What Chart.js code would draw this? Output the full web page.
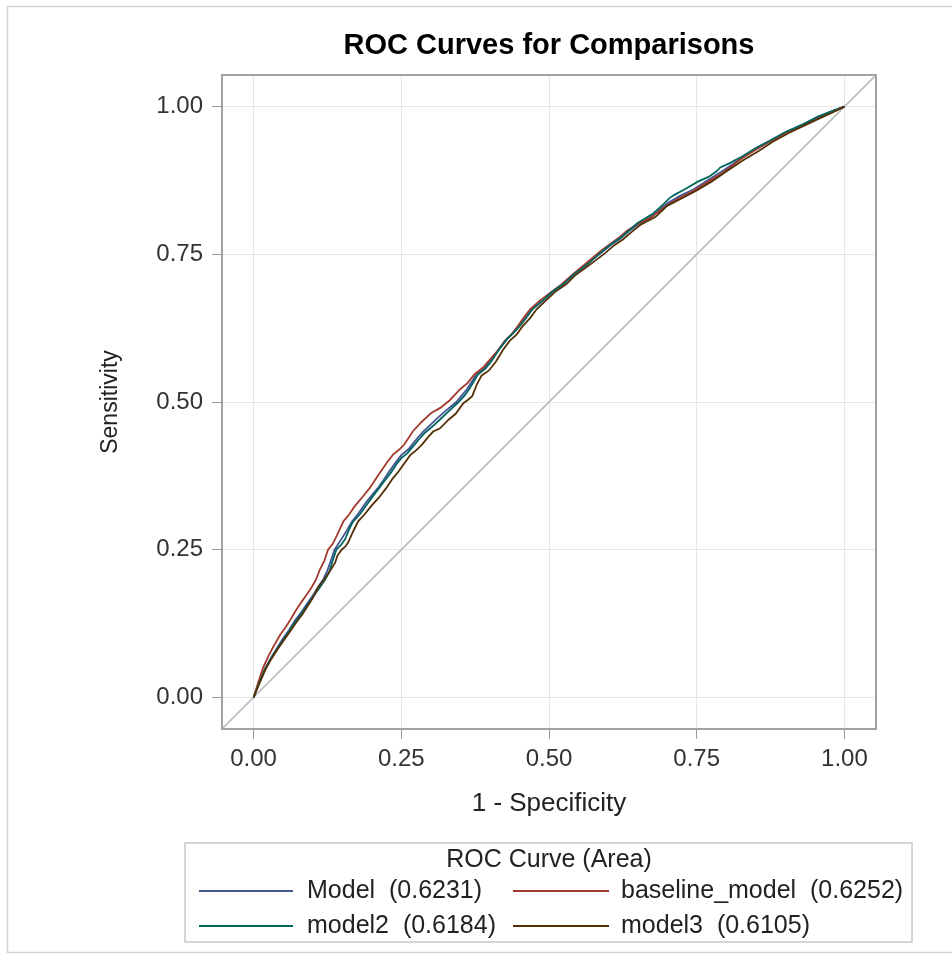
<!DOCTYPE html>
<html><head><meta charset="utf-8">
<script src="https://cdn.jsdelivr.net/npm/chart.js@4.4.1/dist/chart.umd.min.js"></script>
<style>html,body{margin:0;padding:0;background:#fff}canvas{display:block}</style>
</head><body>
<canvas id="c" width="952" height="959"></canvas>
<script>
// ---- data ----
const chartTitle = 'ROC Curves for Comparisons';
const xTitle = '1 - Specificity';
const yTitle = 'Sensitivity';
const legendTitle = 'ROC Curve (Area)';
const seriesNames = ['Model', 'baseline_model', 'model2', 'model3'];
const seriesAreas = [0.6231, 0.6252, 0.6184, 0.6105];
const seriesColors = ['#445694', '#A23A2E', '#01665E', '#543005'];
const tickValues = [0, 0.25, 0.5, 0.75, 1];
const tickLabels = ['0.00', '0.25', '0.50', '0.75', '1.00'];
const axisMin = -0.0535, axisMax = 1.0535;

const modelPts = [[0,0],[0.01,0.027],[0.02,0.05],[0.03,0.068],[0.04,0.084],[0.05,0.1],[0.06,0.114],[0.07,0.13],[0.08,0.143],[0.09,0.158],[0.1,0.172],[0.11,0.188],[0.118,0.2],[0.125,0.215],[0.132,0.235],[0.137,0.25],[0.15,0.27],[0.158,0.283],[0.166,0.297],[0.178,0.312],[0.19,0.33],[0.2,0.342],[0.211,0.355],[0.22,0.368],[0.23,0.383],[0.24,0.397],[0.25,0.41],[0.262,0.42],[0.27,0.43],[0.28,0.442],[0.287,0.45],[0.3,0.462],[0.31,0.472],[0.325,0.485],[0.343,0.5],[0.36,0.52],[0.376,0.545],[0.39,0.556],[0.4,0.57],[0.412,0.585],[0.425,0.603],[0.438,0.616],[0.45,0.63],[0.462,0.645],[0.47,0.657],[0.49,0.672],[0.507,0.687],[0.525,0.7],[0.542,0.716],[0.565,0.735],[0.59,0.754],[0.605,0.766],[0.62,0.776],[0.635,0.789],[0.65,0.8],[0.675,0.815],[0.7,0.836],[0.72,0.848],[0.745,0.86],[0.77,0.876],[0.795,0.892],[0.825,0.912],[0.85,0.928],[0.875,0.942],[0.9,0.956],[0.93,0.97],[0.955,0.982],[0.978,0.992],[1,1]];

const baselinePts = [[0,0],[0.008,0.026],[0.016,0.05],[0.025,0.07],[0.033,0.085],[0.045,0.106],[0.055,0.12],[0.062,0.131],[0.072,0.148],[0.08,0.16],[0.09,0.174],[0.098,0.186],[0.106,0.2],[0.112,0.216],[0.12,0.232],[0.126,0.25],[0.134,0.26],[0.14,0.272],[0.152,0.298],[0.162,0.31],[0.17,0.322],[0.185,0.34],[0.197,0.355],[0.207,0.37],[0.215,0.382],[0.226,0.398],[0.236,0.411],[0.247,0.42],[0.255,0.428],[0.27,0.451],[0.284,0.466],[0.3,0.481],[0.316,0.49],[0.332,0.503],[0.35,0.522],[0.362,0.532],[0.374,0.547],[0.388,0.558],[0.4,0.572],[0.414,0.588],[0.425,0.603],[0.437,0.615],[0.447,0.628],[0.458,0.644],[0.468,0.657],[0.485,0.672],[0.505,0.687],[0.52,0.698],[0.54,0.716],[0.563,0.735],[0.588,0.756],[0.603,0.767],[0.617,0.777],[0.632,0.79],[0.648,0.8],[0.672,0.812],[0.7,0.833],[0.72,0.845],[0.742,0.856],[0.77,0.873],[0.796,0.889],[0.81,0.9],[0.826,0.912],[0.85,0.927],[0.872,0.94],[0.9,0.955],[0.928,0.968],[0.955,0.981],[0.978,0.991],[1,1]];

const model2Pts = [[0,0],[0.01,0.026],[0.02,0.049],[0.03,0.066],[0.04,0.082],[0.052,0.1],[0.062,0.115],[0.072,0.13],[0.082,0.143],[0.092,0.158],[0.102,0.172],[0.112,0.186],[0.12,0.198],[0.128,0.212],[0.134,0.232],[0.14,0.25],[0.148,0.258],[0.155,0.268],[0.162,0.285],[0.168,0.297],[0.18,0.31],[0.192,0.327],[0.203,0.342],[0.213,0.355],[0.222,0.367],[0.232,0.38],[0.242,0.395],[0.25,0.405],[0.26,0.413],[0.27,0.425],[0.28,0.437],[0.29,0.448],[0.302,0.458],[0.315,0.47],[0.33,0.484],[0.347,0.5],[0.358,0.512],[0.365,0.522],[0.38,0.547],[0.392,0.556],[0.402,0.568],[0.415,0.588],[0.428,0.605],[0.44,0.617],[0.45,0.628],[0.462,0.643],[0.472,0.657],[0.49,0.672],[0.507,0.688],[0.525,0.7],[0.542,0.716],[0.565,0.733],[0.59,0.755],[0.605,0.767],[0.62,0.777],[0.635,0.79],[0.65,0.803],[0.675,0.818],[0.693,0.834],[0.705,0.846],[0.713,0.851],[0.73,0.86],[0.752,0.873],[0.77,0.881],[0.783,0.89],[0.79,0.897],[0.805,0.904],[0.826,0.915],[0.85,0.93],[0.875,0.943],[0.9,0.957],[0.93,0.97],[0.955,0.983],[0.978,0.992],[1,1]];

const model3Pts = [[0,0],[0.01,0.024],[0.02,0.047],[0.028,0.062],[0.035,0.073],[0.043,0.085],[0.05,0.095],[0.062,0.112],[0.073,0.128],[0.082,0.14],[0.09,0.152],[0.1,0.168],[0.109,0.186],[0.12,0.2],[0.13,0.215],[0.138,0.228],[0.142,0.24],[0.149,0.25],[0.155,0.255],[0.16,0.262],[0.168,0.28],[0.177,0.298],[0.188,0.31],[0.2,0.325],[0.212,0.338],[0.225,0.355],[0.235,0.37],[0.245,0.382],[0.255,0.396],[0.265,0.41],[0.275,0.418],[0.285,0.428],[0.295,0.44],[0.304,0.45],[0.315,0.455],[0.33,0.47],[0.342,0.48],[0.355,0.498],[0.362,0.503],[0.37,0.51],[0.378,0.53],[0.386,0.545],[0.398,0.553],[0.41,0.568],[0.422,0.588],[0.433,0.603],[0.445,0.614],[0.455,0.628],[0.468,0.642],[0.479,0.657],[0.495,0.672],[0.51,0.686],[0.53,0.7],[0.545,0.715],[0.57,0.733],[0.595,0.752],[0.61,0.765],[0.625,0.775],[0.64,0.788],[0.655,0.8],[0.68,0.813],[0.7,0.832],[0.725,0.845],[0.75,0.858],[0.775,0.873],[0.8,0.89],[0.83,0.91],[0.855,0.925],[0.878,0.94],[0.905,0.955],[0.93,0.967],[0.958,0.98],[0.98,0.99],[1,1]];

const seriesPoints = [modelPts, baselinePts, model2Pts, model3Pts];

// ---- chart ----
const FONT = '"Liberation Sans", Arial, Helvetica, sans-serif';
const toXY = pts => pts.map(p => ({x: p[0], y: p[1]}));

const datasets = seriesPoints.map((pts, i) => ({
  label: seriesNames[i] + '  (' + seriesAreas[i].toFixed(4) + ')',
  data: toXY(pts),
  showLine: true,
  borderColor: seriesColors[i],
  backgroundColor: seriesColors[i],
  borderWidth: 1.8,
  pointRadius: 0,
  tension: 0,
  order: 4 - i
}));
datasets.push({
  label: 'diagonal',
  data: [{x: axisMin, y: axisMin}, {x: axisMax, y: axisMax}],
  showLine: true,
  borderColor: '#bcbcbc',
  borderWidth: 1.6,
  pointRadius: 0,
  order: 10
});

const decor = {
  id: 'decor',
  afterDraw(chart) {
    const ctx = chart.ctx, a = chart.chartArea;
    ctx.save();
    // outer frame
    ctx.strokeStyle = '#d4d4d4'; ctx.lineWidth = 1.5;
    ctx.strokeRect(7.5, 6.5, 960, 946);
    // plot frame
    ctx.strokeStyle = '#a2a2a2'; ctx.lineWidth = 2;
    ctx.strokeRect(a.left, a.top, a.right - a.left, a.bottom - a.top);
    // title
    ctx.fillStyle = '#000';
    ctx.font = 'bold 29px ' + FONT;
    ctx.textAlign = 'center'; ctx.textBaseline = 'middle';
    ctx.fillText(chartTitle, (a.left + a.right) / 2, 46);
    // legend box
    ctx.strokeStyle = '#c8c8c8'; ctx.lineWidth = 1.5;
    ctx.strokeRect(185, 843, 727, 99);
    ctx.fillStyle = '#222';
    ctx.font = '25px ' + FONT;
    ctx.fillText(legendTitle, (a.left + a.right) / 2, 860);
    const colLine = [[199, 293], [513, 609]];
    const colText = [307, 621];
    const rowY = [891, 926];
    ctx.textAlign = 'left';
    for (let i = 0; i < seriesNames.length; i++) {
      const r = Math.floor(i / 2), c = i % 2;
      const ds = chart.data.datasets[i];
      ctx.strokeStyle = ds.borderColor; ctx.lineWidth = 2;
      ctx.beginPath();
      ctx.moveTo(colLine[c][0], rowY[r]); ctx.lineTo(colLine[c][1], rowY[r]);
      ctx.stroke();
      ctx.fillStyle = '#222';
      ctx.fillText(ds.label, colText[c], rowY[r]);
    }
    ctx.restore();
  }
};

const tickOpts = {
  callback: (v, i) => tickLabels[i],
  font: {family: FONT, size: 24},
  color: '#333',
  autoSkip: false,
  maxRotation: 0
};
const gridOpts = {color: '#e6e6e6', tickColor: '#9a9a9a', tickLength: 10, lineWidth: 1};

new Chart(document.getElementById('c'), {
  type: 'scatter',
  data: {datasets},
  options: {
    responsive: false,
    animation: false,
    layout: {padding: {left: 0, top: 75, right: 76, bottom: 0}},
    plugins: {legend: {display: false}, tooltip: {enabled: false}, title: {display: false}},
    scales: {
      x: {
        type: 'linear', position: 'bottom', min: axisMin, max: axisMax,
        afterBuildTicks: s => { s.ticks = tickValues.map(v => ({value: v})); },
        afterFit: s => { s.height = 230; },
        ticks: Object.assign({}, tickOpts, {padding: 6}),
        grid: gridOpts,
        border: {display: false},
        title: {display: true, text: xTitle, color: '#222', font: {family: FONT, size: 26}, padding: {top: 0, bottom: 140}}
      },
      y: {
        type: 'linear', position: 'left', min: axisMin, max: axisMax,
        afterBuildTicks: s => { s.ticks = tickValues.map(v => ({value: v})); },
        afterFit: s => { s.width = 222; },
        ticks: Object.assign({}, tickOpts, {padding: 9}),
        grid: gridOpts,
        border: {display: false},
        title: {display: true, text: yTitle, color: '#222', font: {family: FONT, size: 23}, padding: {top: 97, bottom: 0}}
      }
    }
  },
  plugins: [decor]
});
</script>
</body></html>
